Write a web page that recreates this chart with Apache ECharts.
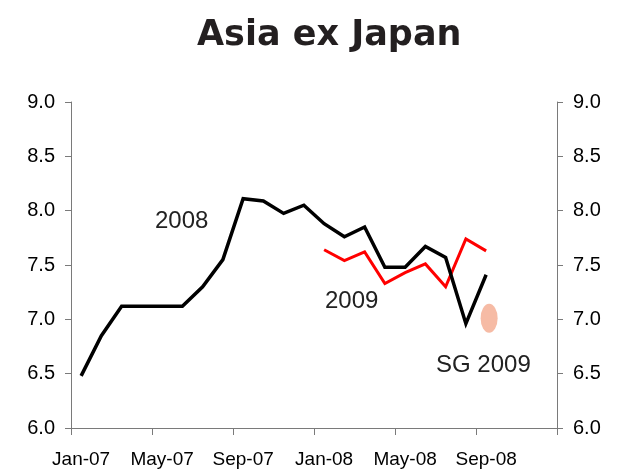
<!DOCTYPE html>
<html>
<head>
<meta charset="utf-8">
<script src="https://cdn.jsdelivr.net/npm/echarts@6/dist/echarts.min.js"></script>
<style>html,body{margin:0;padding:0;background:#fff}#c{width:619px;height:473px}</style>
</head>
<body>
<div id="c"></div>
<script>
const months = ['Jan-07','Feb-07','Mar-07','Apr-07','May-07','Jun-07','Jul-07','Aug-07','Sep-07','Oct-07','Nov-07','Dec-07',
                'Jan-08','Feb-08','Mar-08','Apr-08','May-08','Jun-08','Jul-08','Aug-08','Sep-08','Oct-08','Nov-08','Dec-08'];
const series2008 = [6.48, 6.85, 7.12, 7.12, 7.12, 7.12, 7.30, 7.55, 8.11, 8.09, 7.975, 8.05,
                    7.88, 7.76, 7.85, 7.48, 7.48, 7.67, 7.57, 6.96, 7.41];
const series2009Months = ['Jan-08','Feb-08','Mar-08','Apr-08','May-08','Jun-08','Jul-08','Aug-08','Sep-08'];
const series2009 = [7.64, 7.54, 7.62, 7.33, 7.43, 7.51, 7.30, 7.74, 7.63];
const sg2009 = {month: 'Sep-08', value: 7.01};
const yTicks = [6.0, 6.5, 7.0, 7.5, 8.0, 8.5, 9.0];

const chart = echarts.init(document.getElementById('c'), null, {renderer: 'canvas'});
const axisColor = '#7a7a7a';
const labelFont = {color: '#000', fontSize: 20, fontFamily: 'Liberation Sans, Arial, sans-serif'};
const yAxisBase = {
  type: 'value', min: yTicks[0], max: yTicks[yTicks.length - 1], interval: 0.5,
  axisLine: {show: true, lineStyle: {color: axisColor, width: 1}},
  axisTick: {show: true, length: 6, lineStyle: {color: axisColor}},
  splitLine: {show: false},
  axisLabel: Object.assign({margin: 16, formatter: v => v.toFixed(1)}, labelFont)
};
chart.setOption({
  animation: false,
  title: {
    text: 'Asia ex Japan', left: 192, top: 13,
    textStyle: {fontFamily: 'DejaVu Sans', fontWeight: 'bold', fontSize: 35, color: '#231f20'}
  },
  grid: {left: 71, right: 62, top: 102, bottom: 45, containLabel: false},
  xAxis: {
    type: 'category', data: months, boundaryGap: true,
    axisLine: {show: true, lineStyle: {color: axisColor, width: 1}},
    axisTick: {show: true, interval: 3, length: 7, lineStyle: {color: axisColor}},
    axisLabel: Object.assign({interval: 3, margin: 22}, labelFont, {fontSize: 19})
  },
  yAxis: [
    Object.assign({}, yAxisBase, {position: 'left'}),
    Object.assign({}, yAxisBase, {position: 'right'})
  ],
  series: [
    {
      name: '2008', type: 'line', data: series2008, symbol: 'none',
      lineStyle: {color: '#000', width: 3.5, join: 'miter'}, z: 3
    },
    {
      name: '2009', type: 'line', data: series2009Months.map((m, i) => [m, series2009[i]]), symbol: 'none',
      lineStyle: {color: '#ff0000', width: 3, join: 'miter'}, z: 2
    },
    {
      name: 'SG 2009', type: 'scatter', data: [[sg2009.month, sg2009.value]],
      symbol: 'circle', symbolSize: [17, 29], symbolOffset: [3, 0],
      itemStyle: {color: '#F4AA8F'}
    }
  ],
  graphic: [
    {type: 'text', left: 155, top: 209, style: {text: '2008', fill: '#222', font: '24px "Liberation Sans", Arial, sans-serif'}},
    {type: 'text', left: 325, top: 289, style: {text: '2009', fill: '#222', font: '24px "Liberation Sans", Arial, sans-serif'}},
    {type: 'text', left: 436, top: 353, style: {text: 'SG 2009', fill: '#222', font: '24px "Liberation Sans", Arial, sans-serif'}}
  ]
});
</script>
</body>
</html>
